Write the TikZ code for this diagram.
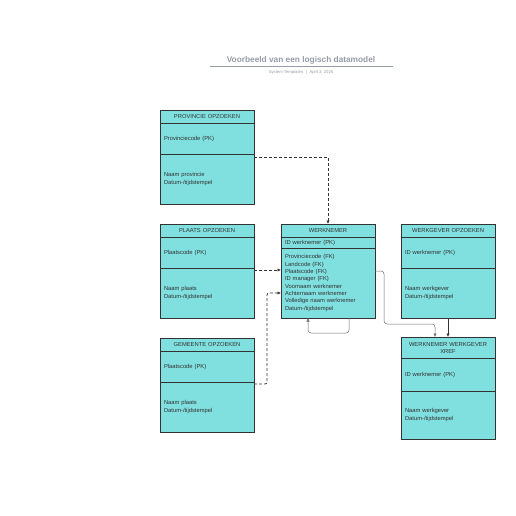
\documentclass[tikz,border=0pt]{standalone}
\usepackage{fontspec}
\setmainfont{Liberation Sans}
\usetikzlibrary{arrows.meta,positioning,calc}
\definecolor{tabelkleur}{RGB}{128,223,223}
\definecolor{rand}{RGB}{51,51,51}
\definecolor{lijngrijs}{RGB}{110,110,110}
\definecolor{titelgrijs}{RGB}{150,156,166}
\tikzset{
  kop/.style={draw=rand,fill=tabelkleur,line width=0.8pt,text=rand,
    text width=86pt,inner xsep=4pt,inner ysep=0pt,outer sep=0pt,
    minimum height=13pt,align=center,font=\fontsize{5.8}{7}\selectfont},
  veld/.style={kop,align=left,font=\fontsize{5.8}{7.3}\selectfont},
  pijl/.style={-{Latex[length=3.5pt,width=3.5pt]}},
  stippel/.style={pijl,draw=rand,line width=0.8pt,dash pattern=on 3pt off 2pt},
  verband/.style={pijl,draw=lijngrijs,line width=0.5pt,rounded corners=3pt},
}

\begin{document}
\begin{tikzpicture}[x=1pt,y=-1pt]
  \useasboundingbox (0,0) rectangle (516,516);
  % titel
  \node[font=\bfseries\fontsize{8.3}{9}\selectfont,text=titelgrijs] (titel) at (301,60)
    {Voorbeeld van een logisch datamodel};
  \draw[titelgrijs,line width=0.6pt] (210,66) -- (393,66);
  \node[font=\fontsize{4.2}{5}\selectfont,text=titelgrijs] (onder) at (301,72)
    {System Templates \enspace|\enspace April 3, 2025};

  % provincie
  \node[kop,anchor=north west] (prov-kop) at (160,110) {PROVINCIE OPZOEKEN};
  \node[veld,minimum height=31pt,below=0pt of prov-kop] (prov-pk) {Provinciecode (PK)};
  \node[veld,minimum height=50pt,below=0pt of prov-pk] (prov-rest)
    {Naam provincie\\Datum-/tijdstempel};

  % plaats
  \node[kop,anchor=north west] (plaats-kop) at (160,224) {PLAATS OPZOEKEN};
  \node[veld,minimum height=31pt,below=0pt of plaats-kop] (plaats-pk) {Plaatscode (PK)};
  \node[veld,minimum height=50pt,below=0pt of plaats-pk] (plaats-rest)
    {Naam plaats\\Datum-/tijdstempel};

  % gemeente
  \node[kop,anchor=north west] (gem-kop) at (160,338) {GEMEENTE OPZOEKEN};
  \node[veld,minimum height=31pt,below=0pt of gem-kop] (gem-pk) {Plaatscode (PK)};
  \node[veld,minimum height=50pt,below=0pt of gem-pk] (gem-rest)
    {Naam plaats\\Datum-/tijdstempel};

  % werknemer
  \node[kop,anchor=north west] (wn-kop) at (281,224) {WERKNEMER};
  \node[veld,minimum height=11pt,below=0pt of wn-kop] (wn-pk) {ID werknemer (PK)};
  \node[veld,minimum height=70pt,below=0pt of wn-pk] (wn-rest)
    {Provinciecode (FK)\\Landcode (FK)\\Plaatscode (FK)\\ID manager (FK)\\
     Voornaam werknemer\\Achternaam werknemer\\Volledige naam werknemer\\
     Datum-/tijdstempel};

  % werkgever
  \node[kop,anchor=north west] (wg-kop) at (401,224) {WERKGEVER OPZOEKEN};
  \node[veld,minimum height=31pt,below=0pt of wg-kop] (wg-pk) {ID werknemer (PK)};
  \node[veld,minimum height=50pt,below=0pt of wg-pk] (wg-rest)
    {Naam werkgever\\Datum-/tijdstempel};

  % xref
  \node[kop,minimum height=21pt,anchor=north west] (xref-kop) at (401,337)
    {WERKNEMER WERKGEVER\\XREF};
  \node[veld,minimum height=33pt,below=0pt of xref-kop] (xref-pk) {ID werknemer (PK)};
  \node[veld,minimum height=48pt,below=0pt of xref-pk] (xref-rest)
    {Naam werkgever\\Datum-/tijdstempel};

  % verbindingen
  \draw[stippel] ([yshift=-3pt]prov-rest.north east) -| (wn-kop.north);
  \draw[stippel] ([yshift=-2pt]plaats-rest.north east)
    -- ([yshift=-2pt]plaats-rest.north east -| wn-rest.west);
  \draw[stippel,rounded corners=2pt] ([yshift=-2pt]gem-rest.north east) -- ++(13,0)
    |- ([yshift=-45pt]wn-rest.north west);
  \draw[verband] ([xshift=21pt]wn-rest.south) -- ++(0,15)
    -| ([xshift=-20pt]wn-rest.south);
  \draw[verband] ([yshift=-23pt]wn-rest.north east) -- ++(9,0) -- ++(0,53)
    -| ([xshift=-13pt]xref-kop.north);
  \draw[pijl,draw=rand,line width=0.8pt] (wg-rest.south) -- (xref-kop.north);
\end{tikzpicture}
\end{document}
